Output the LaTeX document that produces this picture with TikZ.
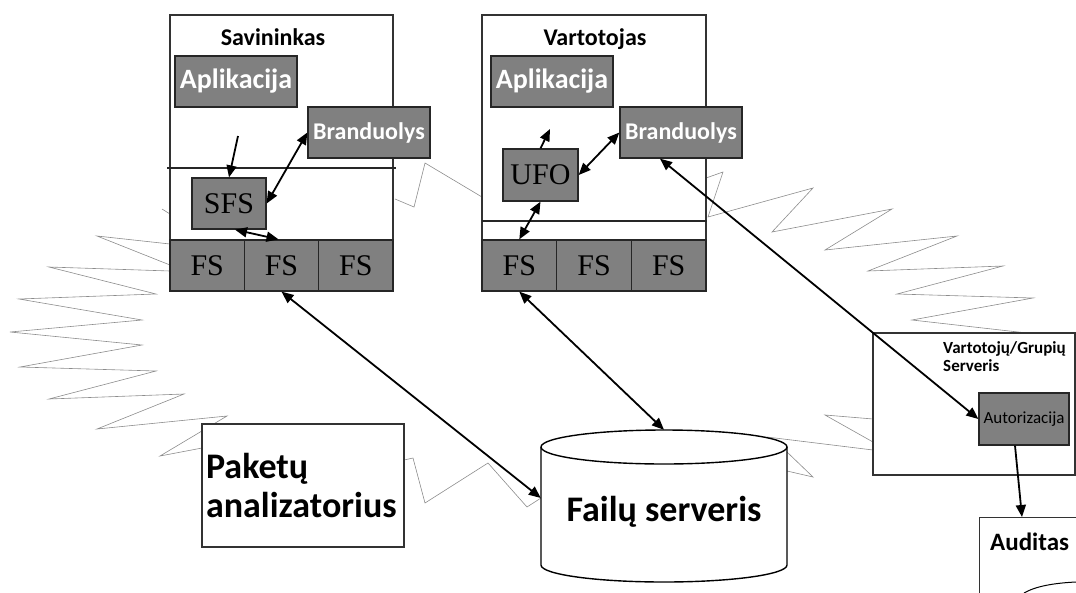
\documentclass[tikz,border=0pt]{standalone}
\usepackage{fontspec}
\setmainfont{Liberation Serif}
\newfontfamily\carl{Carlito}
\usetikzlibrary{arrows.meta}
\begin{document}
\begin{tikzpicture}[x=1pt,y=-1pt,
  zig/.style={draw=black!45, line width=0.6pt},
  outer/.style={draw=black!80, line width=1.2pt, fill=white, inner sep=0pt},
  gbox/.style={draw=black!85, line width=1.3pt, fill=black!50, inner sep=0pt},
  wlab/.style={text=white, font=\carl\bfseries\fontsize{24}{24}\selectfont},
  wbig/.style={text=white, font=\carl\bfseries\fontsize{28}{28}\selectfont},
  serif/.style={font=\fontsize{30}{30}\selectfont},
  title/.style={font=\carl\bfseries\fontsize{24}{24}\selectfont, inner sep=0pt},
  arr/.style={line width=1.8pt, -{Triangle[length=12pt,width=10pt]}},
  darr/.style={line width=1.8pt, {Triangle[length=12pt,width=10pt]}-{Triangle[length=12pt,width=10pt]}},
  divider/.style={line width=1.1pt, draw=black!85}
]
\useasboundingbox (0,0) rectangle (1076,592);
\clip (0,0) rectangle (1076,592);

% zigzag outline (background)
\draw[zig] (395,199) -- (414,207) -- (425,163) -- (482,197);
\draw[zig] (706,178) -- (723,172) -- (708,217) -- (813,188) -- (772,232) -- (892,209) -- (825,250) -- (957,236) -- (868,271) -- (1003,266) -- (897,294) -- (1033,298) -- (912,320) -- (1027,333);
\draw[zig] (873,419) -- (825,415) -- (873,442);
\draw[zig] (873,450) -- (767,437);
\draw[zig] (787,452) -- (813,477) -- (787,471);
\draw[zig] (404,460) -- (413,458) -- (425,503) -- (488,463) -- (527,507) -- (541,498);
\draw[zig] (162,209) -- (170,214);
\draw[zig] (170,244) -- (97,236) -- (170,265);
\draw[zig] (170,271) -- (49,267) -- (156,294) -- (19,299) -- (142,320) -- (10,332) -- (142,345) -- (20,367) -- (156,371) -- (49,399) -- (184,394) -- (97,429) -- (227,416) -- (160,456) -- (202,448);

% Savininkas
\node[outer, minimum width=223pt, minimum height=276pt] (sav) at (281.5,153) {};
\node[title, anchor=base] (savT) at (273,45) {Savininkas};
\draw[divider] (167,168) -- (396,168);
\node[gbox, wbig, minimum width=122pt, minimum height=51pt] (sapp) at (236,81.5) {Aplikacija};
\node[gbox, wlab, minimum width=122pt, minimum height=51pt] (sbr) at (369,132.5) {Branduolys};
\node[gbox, serif, minimum width=74pt, minimum height=51pt] (sfs) at (229,203.5) {SFS};
\node[gbox, serif, minimum width=74.3pt, minimum height=51pt] (sfs1) at (207.2,265.5) {FS};
\node[gbox, serif, minimum width=74.3pt, minimum height=51pt] (sfs2) at (281.5,265.5) {FS};
\node[gbox, serif, minimum width=74.3pt, minimum height=51pt] (sfs3) at (355.8,265.5) {FS};

% Vartotojas
\node[outer, minimum width=224pt, minimum height=276pt] (vart) at (594,153) {};
\node[title, anchor=base] (vartT) at (595,45) {Vartotojas};
\draw[divider] (482,221) -- (707,221);
\node[gbox, wbig, minimum width=122pt, minimum height=51pt] (vapp) at (552,81.5) {Aplikacija};
\node[gbox, wlab, minimum width=122pt, minimum height=51pt] (vbr) at (681,132.5) {Branduolys};
\node[gbox, serif, minimum width=75pt, minimum height=52pt] (ufo) at (540.5,175) {UFO};
\node[gbox, serif, minimum width=74.7pt, minimum height=51pt] (vfs1) at (519.3,265.5) {FS};
\node[gbox, serif, minimum width=74.7pt, minimum height=51pt] (vfs2) at (594,265.5) {FS};
\node[gbox, serif, minimum width=74.7pt, minimum height=51pt] (vfs3) at (668.7,265.5) {FS};

% Paketu analizatorius
\node[outer, minimum width=202pt, minimum height=123pt, text width=194pt, align=left, inner xsep=4pt,
      font=\carl\bfseries\fontsize{36}{39}\selectfont] (pak) at (303,485.5) {Paketų\\analizatorius};

% Failu serveris cylinder
\fill[white] (541,447) rectangle (787,565);
\fill[white] (664,565) ellipse [x radius=123, y radius=17];
\fill[white] (664,447) ellipse [x radius=123, y radius=17];
\draw[line width=1.4pt] (664,447) ellipse [x radius=123, y radius=17];
\draw[line width=1.4pt] (541,447) -- (541,565) arc[start angle=180, end angle=0, x radius=123, y radius=17] -- (787,447);
\node[font=\carl\bfseries\fontsize{36}{36}\selectfont, inner sep=0pt, minimum width=246pt, minimum height=164pt] (fsrv) at (664,512) {Failų serveris};

% Vartotoju/Grupiu serveris
\node[outer, minimum width=202pt, minimum height=142pt] (srv) at (974,404) {};
\node[anchor=north west, inner sep=0pt, align=left, font=\carl\bfseries\fontsize{17}{18}\selectfont] (srvT) at (943,341) {Vartotojų/Grupių\\Serveris};
\node[gbox, minimum width=90pt, minimum height=52pt, font=\carl\fontsize{17}{17}\selectfont] (auth) at (1024,419) {Autorizacija};

% Auditas
\node[outer, minimum width=130pt, minimum height=110pt, anchor=north west] (aud) at (979,517) {};
\node[anchor=base west, inner sep=0pt, font=\carl\bfseries\fontsize{25}{25}\selectfont] (audT) at (990,550) {Auditas};
\draw[line width=1pt] (1024,593) .. controls (1036,586) and (1055,583) .. (1076,582);

% connectors
\coordinate (a1) at (238,136);
\coordinate (a2) at (550,129);
\draw[arr] (a1) -- (sfs.north);
\draw[darr] (sfs.east) -- (sbr.west);
\draw[darr] ([xshift=6pt]sfs.south) -- ([xshift=-3pt]sfs2.north);
\draw[arr] (ufo.north) -- (a2);
\draw[darr] (ufo.east) -- (vbr.west);
\draw[darr] (ufo.south) -- (vfs1.north);
\draw[darr] (sfs2.south) -- ([yshift=14pt]fsrv.west);
\draw[darr] (vfs1.south) -- (fsrv.north);
\draw[darr] ([xshift=-21pt]vbr.south) -- (auth.west);
\draw[arr] ([xshift=-9pt]auth.south) -- ([xshift=43pt]aud.north west);
\end{tikzpicture}
\end{document}
